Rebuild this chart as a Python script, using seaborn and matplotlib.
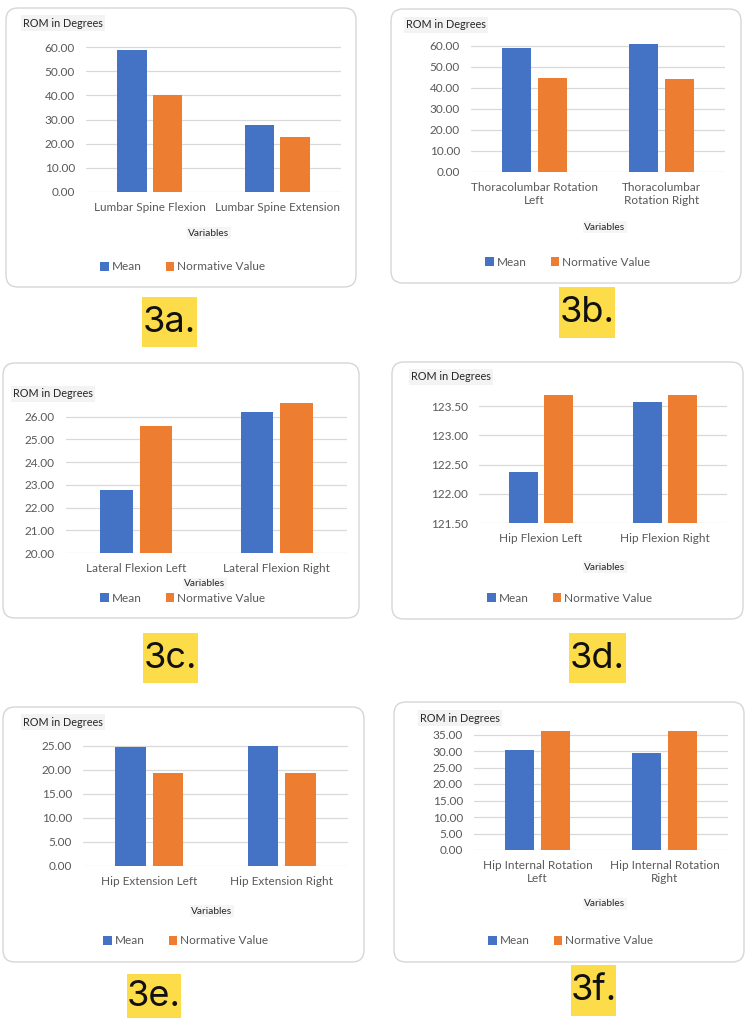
import numpy as np
import pandas as pd
import matplotlib.pyplot as plt
import seaborn as sns
from matplotlib.patches import FancyBboxPatch, Rectangle
from matplotlib.ticker import StrMethodFormatter

W, H = 750, 1018

series = ['Mean', 'Normative Value']
colors = ['#4472C4', '#ED7D31']

# 3a
vars_a = ['Lumbar Spine Flexion', 'Lumbar Spine Extension']
mean_a = [58.9, 27.9]
norm_a = [40.1, 22.9]
# 3b
vars_b = ['Thoracolumbar Rotation\nLeft', 'Thoracolumbar\nRotation Right']
mean_b = [59.2, 61.0]
norm_b = [44.9, 44.4]
# 3c
vars_c = ['Lateral Flexion Left', 'Lateral Flexion Right']
mean_c = [22.76, 26.2]
norm_c = [25.59, 26.6]
# 3d
vars_d = ['Hip Flexion Left', 'Hip Flexion Right']
mean_d = [122.38, 123.57]
norm_d = [123.69, 123.69]
# 3e
vars_e = ['Hip Extension Left', 'Hip Extension Right']
mean_e = [24.8, 25.07]
norm_e = [19.4, 19.4]
# 3f
vars_f = ['Hip Internal Rotation\nLeft', 'Hip Internal Rotation\nRight']
mean_f = [30.2, 29.3]
norm_f = [36.0, 36.0]

# layout in pixels: box, axes (x0, ytop, x1, ybottom), title, "Variables", legend, label box
panels = [
    dict(tag='3a.', cats=vars_a, mean=mean_a, norm=norm_a, ylim=(0, 70), ticks=(0, 60, 10),
         box=(6, 8, 356, 287), ax=(86, 23, 341, 192), title=(23, 23), var=(209, 233),
         leg=(183, 267), label=(142, 297, 197, 347)),
    dict(tag='3b.', cats=vars_b, mean=mean_b, norm=norm_b, ylim=(0, 70), ticks=(0, 60, 10),
         box=(391, 9, 741, 283), ax=(471, 25, 725, 172), title=(406, 25), var=(605, 227),
         leg=(568, 262), label=(559, 287, 615, 338)),
    dict(tag='3c.', cats=vars_c, mean=mean_c, norm=norm_c, ylim=(20, 27), ticks=(20, 26, 1),
         box=(3, 363, 359, 618), ax=(66, 394, 347, 553), title=(13, 394), var=(205, 584),
         leg=(183, 598), label=(143, 633, 198, 683)),
    dict(tag='3d.', cats=vars_d, mean=mean_d, norm=norm_d, ylim=(121.5, 124), ticks=(121.5, 123.5, 0.5),
         box=(392, 362, 743, 619), ax=(479, 377, 727, 523), title=(411, 377), var=(605, 567),
         leg=(570, 598), label=(569, 633, 626, 683)),
    dict(tag='3e.', cats=vars_e, mean=mean_e, norm=norm_e, ylim=(0, 30), ticks=(0, 25, 5),
         box=(3, 707, 364, 962), ax=(83, 722, 348, 866), title=(23, 722), var=(212, 911),
         leg=(186, 941), label=(127, 974, 181, 1018)),
    dict(tag='3f.', cats=vars_f, mean=mean_f, norm=norm_f, ylim=(0, 40), ticks=(0, 35, 5),
         box=(394, 702, 744, 962), ax=(474, 718, 728, 850), title=(420, 718), var=(605, 904),
         leg=(571, 941), label=(571, 965, 616, 1016)),
]

sns.set_style('white')
plt.rcParams['font.family'] = ['Lato', 'DejaVu Sans']

fig = plt.figure(figsize=(W / 100, H / 100), dpi=100)


def fx(x):
    return x / W


def fy(y):
    return 1 - y / H


for p in panels:
    # rounded frame
    bx0, by0, bx1, by1 = p['box']
    frame = FancyBboxPatch((fx(bx0), fy(by1)), (bx1 - bx0) / W, (by1 - by0) / H,
                           boxstyle='round,pad=0,rounding_size=%f' % (12 / W),
                           mutation_aspect=W / H, transform=fig.transFigure,
                           fc='white', ec='#D6D6D6', lw=1.0, zorder=-5)
    fig.add_artist(frame)

    df = pd.DataFrame({
        'Variables': p['cats'] * 2,
        'series': [series[0]] * 2 + [series[1]] * 2,
        'value': list(p['mean']) + list(p['norm']),
    })

    ax0, ay0, ax1, ay1 = p['ax']
    ax = fig.add_axes([fx(ax0), fy(ay1), (ax1 - ax0) / W, (ay1 - ay0) / H])
    ax.set_facecolor('none')
    sns.barplot(data=df, x='Variables', y='value', hue='series', palette=colors,
                saturation=1, width=0.56, gap=0.18, errorbar=None, linewidth=0, ax=ax)
    ax.set_ylim(*p['ylim'])
    lo, hi, st = p['ticks']
    ax.set_yticks(np.arange(lo, hi + st / 2, st))
    ax.yaxis.set_major_formatter(StrMethodFormatter('{x:.2f}'))
    ax.set_xlim(-0.5, 1.5)
    ax.yaxis.grid(True, color='#D9D9D9', lw=0.9)
    ax.set_axisbelow(True)
    for s in ax.spines.values():
        s.set_visible(False)
    ax.tick_params(axis='both', length=0, labelsize=8.5, labelcolor='#595959')
    ax.tick_params(axis='y', pad=8)
    ax.tick_params(axis='x', pad=7)
    ax.set_xlabel('')
    ax.set_ylabel('')

    fig.text(fx(p['title'][0]), fy(p['title'][1]), 'ROM in Degrees', ha='left', va='center',
             fontsize=7.8, color='#262626',
             bbox=dict(facecolor='#F3F3F3', edgecolor='none', pad=1.5))
    fig.text(fx(p['var'][0]), fy(p['var'][1]), 'Variables', ha='center', va='center',
             fontsize=7.3, color='#262626',
             bbox=dict(facecolor='#F5F5F5', edgecolor='none', pad=1.2))

    sns.move_legend(ax, 'center', bbox_to_anchor=(fx(p['leg'][0]), fy(p['leg'][1])),
                    bbox_transform=fig.transFigure, ncol=2, title=None, frameon=False,
                    fontsize=8.5, handlelength=0.7, handleheight=0.7, handletextpad=0.3,
                    columnspacing=2.0, labelcolor='#595959')

    lx0, ly0, lx1, ly1 = p['label']
    fig.add_artist(Rectangle((fx(lx0), fy(ly1)), (lx1 - lx0) / W, (ly1 - ly0) / H,
                             transform=fig.transFigure, fc='#FDDC4A', ec='none'))
    fig.text(fx((lx0 + lx1) / 2), fy((ly0 + ly1) / 2), p['tag'], ha='center', va='center',
             fontsize=26, color='#111111', family=['Inter', 'DejaVu Sans'])

fig.savefig('out.png', dpi=100, facecolor='white')
